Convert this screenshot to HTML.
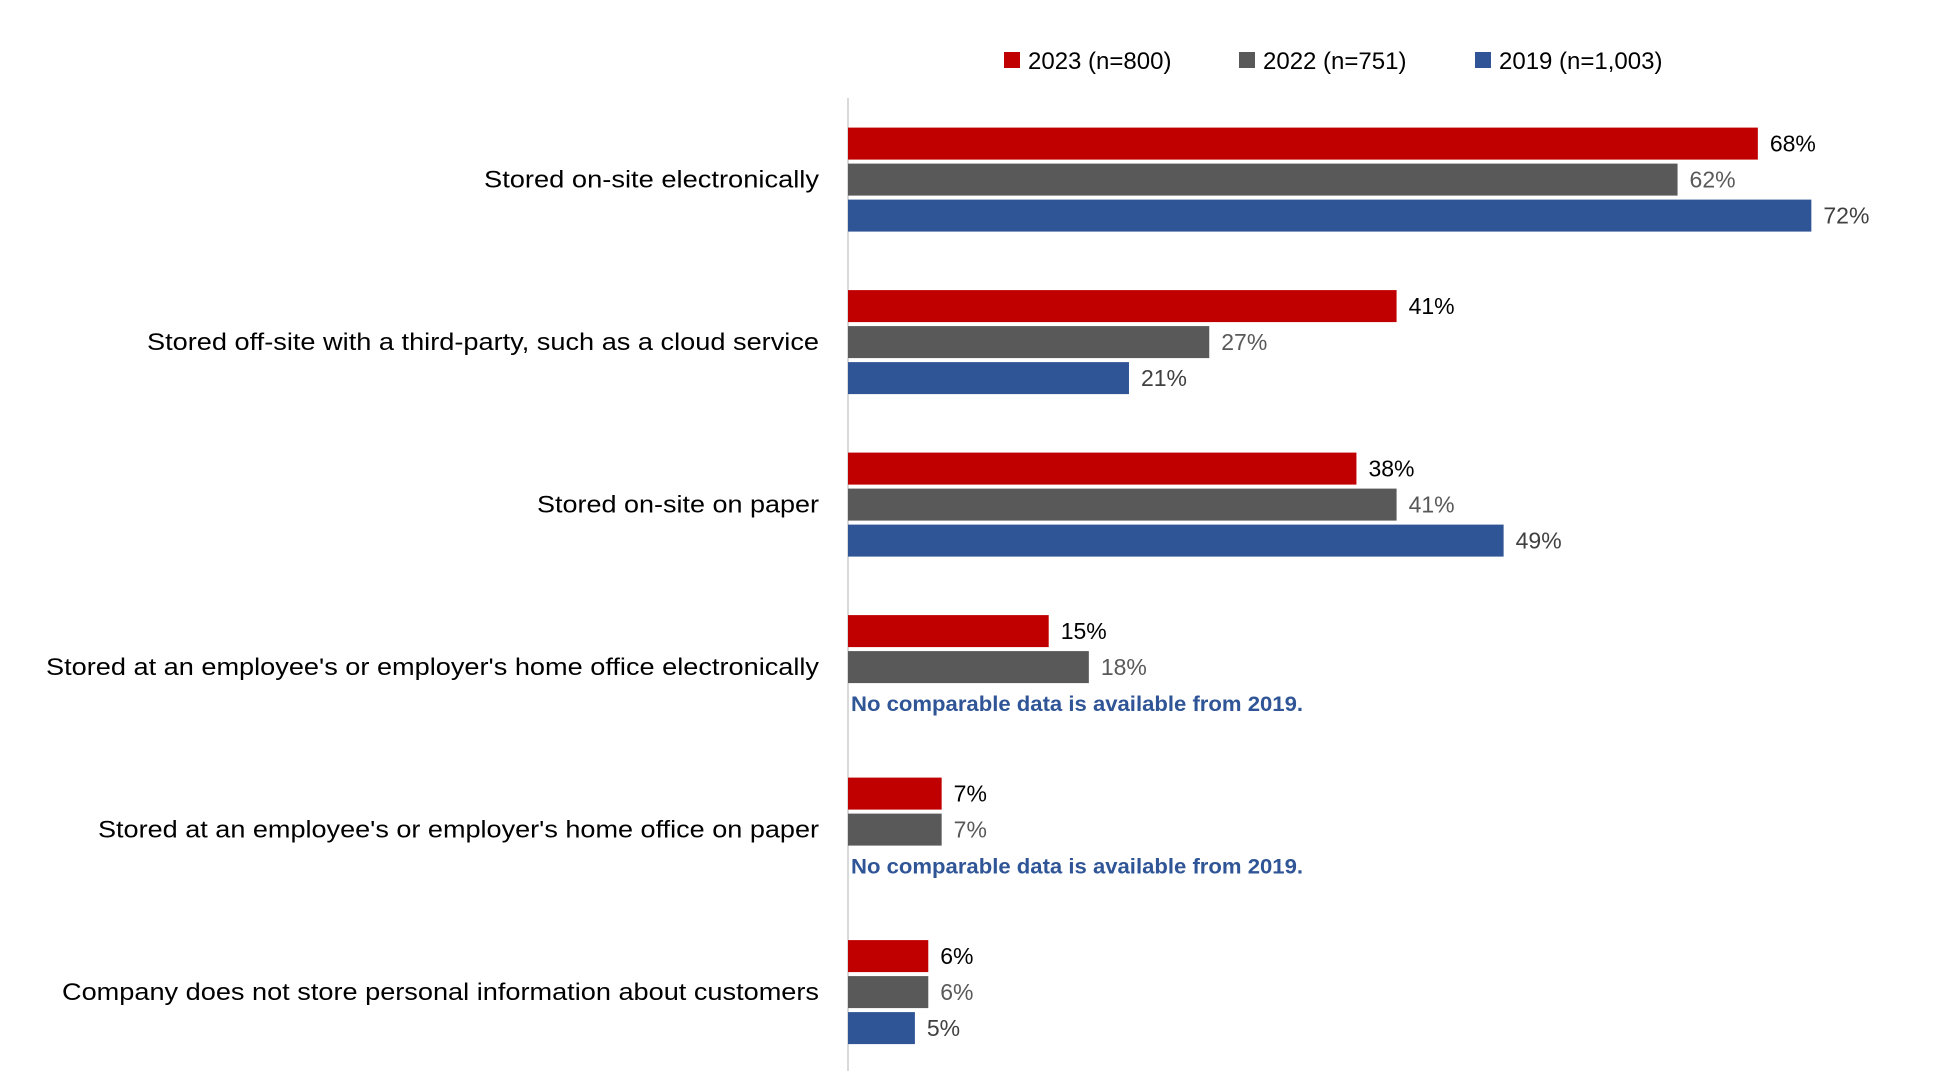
<!DOCTYPE html>
<html><head><meta charset="utf-8"><style>
html,body{margin:0;padding:0;background:#fff;}
svg{display:block;font-family:"Liberation Sans",Arial,sans-serif;}
</style></head><body>
<svg id="chart" width="1952" height="1091" viewBox="0 0 1952 1091" xmlns="http://www.w3.org/2000/svg">
<g id="legend"></g>
<line x1="848" y1="98" x2="848" y2="1071" stroke="#d9d9d9" stroke-width="2"/>
<g id="bars"></g>
</svg>
<script>
const categories = [
  "Stored on-site electronically",
  "Stored off-site with a third-party, such as a cloud service",
  "Stored on-site on paper",
  "Stored at an employee's or employer's home office electronically",
  "Stored at an employee's or employer's home office on paper",
  "Company does not store personal information about customers"
];
const seriesNames = ["2023 (n=800)", "2022 (n=751)", "2019 (n=1,003)"];
const values2023 = [68, 41, 38, 15, 7, 6];
const values2022 = [62, 27, 41, 18, 7, 6];
const values2019 = [72, 21, 49, null, null, 5];
const noDataNote = "No comparable data is available from 2019.";

const colors = ["#C00000", "#595959", "#2F5597"];
const labelColors = ["#000000", "#595959", "#404040"];
const NS = "http://www.w3.org/2000/svg";
const x0 = 848, pxPerPct = 13.38;
const xScale = v => x0 + v * pxPerPct;
const groupTop = i => 127.6 + i * 162.5;
const barH = 32, barPitch = 36;
const labelWidths = [335, 672, 282, 773, 721, 757];

function mk(tag, attrs, parent){
  const e = document.createElementNS(NS, tag);
  for (const k in attrs) e.setAttribute(k, attrs[k]);
  parent.appendChild(e);
  return e;
}
const legend = document.getElementById('legend');
const legX = [1004, 1239, 1475];
seriesNames.forEach((n, s) => {
  const r = mk('rect', {x: legX[s], y: 52, width: 16, height: 16, fill: colors[s]}, legend);
  
  
  const t = mk('text', {x: legX[s] + 24, y: 69, 'font-size': 24, fill: '#000'}, legend);
  t.textContent = n;
  
  
});

const g = document.getElementById('bars');
const all = [values2023, values2022, values2019];
categories.forEach((c, i) => {
  const top = groupTop(i);
  const lab = mk('text', {x: 819, y: top + barPitch + barH/2 + 8, 'font-size': 24, 'text-anchor': 'end', fill: '#000', textLength: labelWidths[i], lengthAdjust: 'spacingAndGlyphs'}, g);
  lab.textContent = c;
  
  
  all.forEach((arr, s) => {
    const v = arr[i];
    const y = top + s * barPitch;
    if (v === null) {
      const n = mk('text', {x: 851, y: y + barH/2 + 8, 'font-size': 21, 'font-weight': 'bold', fill: '#2F5597', textLength: 452, lengthAdjust: 'spacingAndGlyphs'}, g);
      n.textContent = noDataNote;
      
      
      return;
    }
    const r = mk('rect', {x: x0, y: y, width: xScale(v) - x0, height: barH, fill: colors[s]}, g);
    
    
    const t = mk('text', {x: xScale(v) + 12, y: y + barH/2 + 8, 'font-size': 23, fill: labelColors[s]}, g);
    t.textContent = v + '%';
    
    
  });
});
</script>
</body></html>
